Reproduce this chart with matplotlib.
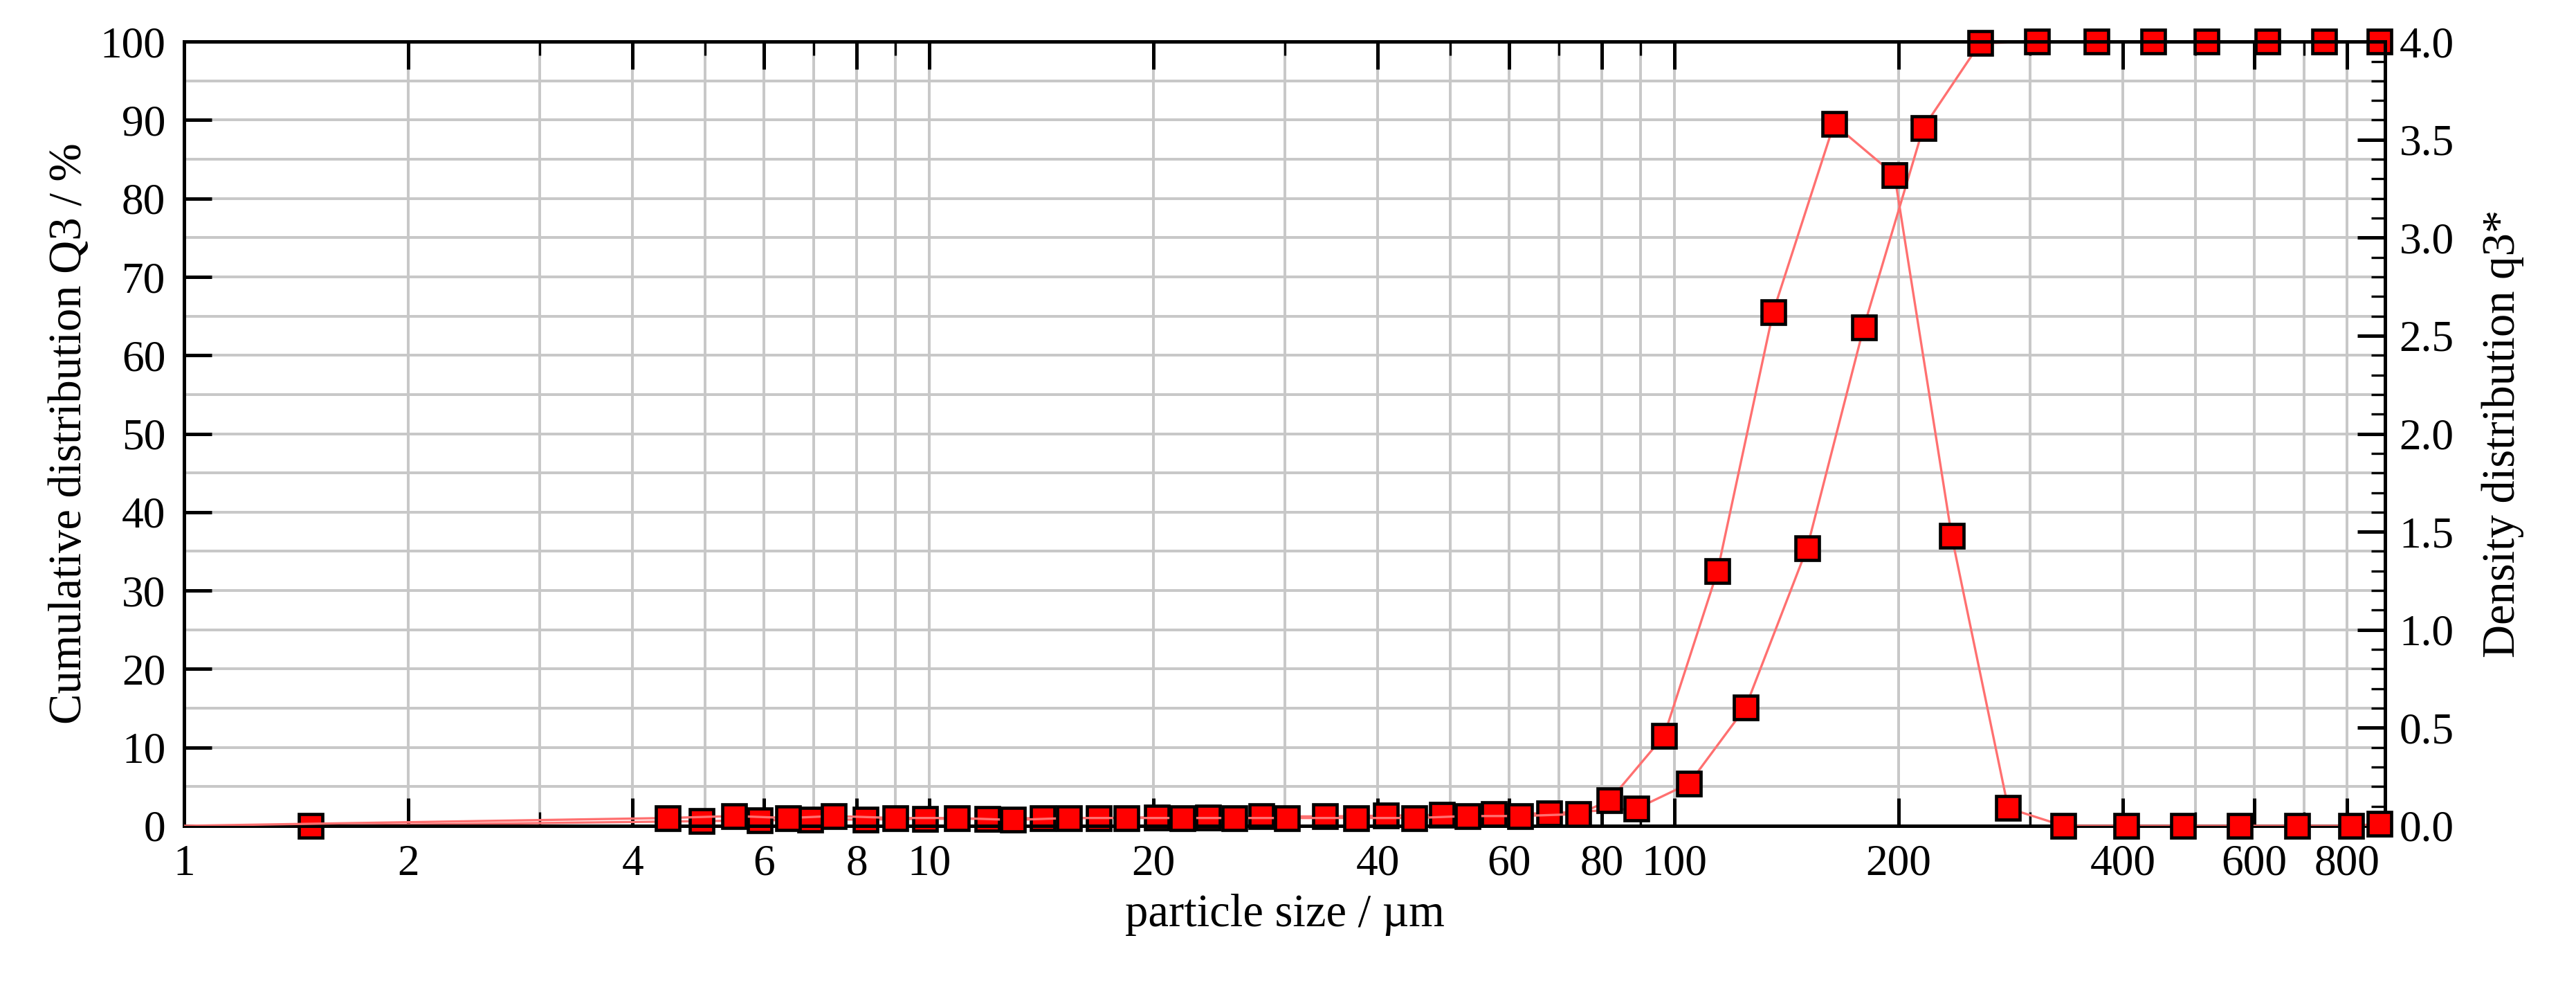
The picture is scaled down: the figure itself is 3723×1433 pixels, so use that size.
import matplotlib

matplotlib.use("Agg")

import matplotlib.pyplot as plt
from matplotlib.ticker import FixedLocator, FormatStrFormatter, MultipleLocator, NullFormatter

# cumulative distribution Q3 (%)
cum_size = [1.48, 4.95, 5.93, 6.93, 8.22, 9.88, 11.96, 14.2, 16.9, 20.2, 23.7,
            27.9, 34.0, 41.0, 48.8, 57.3, 68.0, 89.0, 104.7, 124.6, 150.7,
            179.6, 215.8, 257.2, 306.9, 368.4, 439.5, 517.9, 624.6, 744.5, 883.0]
cum_q3 = [0.0, 0.6, 0.7, 0.8, 0.8, 0.9, 0.9, 1.0, 1.0, 1.1, 1.1,
          1.2, 1.2, 1.3, 1.4, 1.5, 1.6, 2.2, 5.4, 15.1, 35.4,
          63.6, 89.0, 99.8, 100.0, 100.0, 100.0, 100.0, 100.0, 100.0, 100.0]

# density distribution q3* (right axis units)
dens_size = [4.46, 5.47, 6.47, 7.45, 9.0, 10.9, 12.96, 15.4, 18.4, 21.9, 25.7,
             30.2, 37.4, 44.8, 52.8, 62.1, 74.4, 81.9, 96.9, 114.3, 135.7,
             163.8, 197.5, 235.6, 280.6, 332.9, 404.0, 482.0, 573.9, 685.2,
             810.0, 883.0]
dens_q3 = [0.04, 0.05, 0.04, 0.05, 0.04, 0.04, 0.03, 0.04, 0.04, 0.04, 0.04,
           0.04, 0.04, 0.04, 0.05, 0.05, 0.06, 0.13, 0.46, 1.30, 2.62,
           3.58, 3.32, 1.48, 0.09, 0.0, 0.0, 0.0, 0.0, 0.0, 0.0, 0.01]

x_ticks = [1, 2, 4, 6, 8, 10, 20, 40, 60, 80, 100, 200, 400, 600, 800]

plt.rcParams["font.family"] = ["Liberation Serif", "DejaVu Serif"]
plt.rcParams["font.size"] = 19

fig = plt.figure(figsize=(3723 / 240, 1433 / 240), dpi=240)
ax = fig.add_axes([0.0714, 0.1675, 0.8546, 0.7905])
ax2 = ax.twinx()

line_col = "#ff7070"
ax.plot([1] + cum_size, [0] + cum_q3, color=line_col, lw=1.0, zorder=3)
ax.plot(cum_size, cum_q3, ls="none", marker="s", ms=10, mfc="#ff0000",
        mec="black", mew=1.4, zorder=4, clip_on=False)
ax2.plot([1] + dens_size, [0] + dens_q3, color=line_col, lw=1.0, zorder=3)
ax2.plot(dens_size, dens_q3, ls="none", marker="s", ms=10, mfc="#ff0000",
         mec="black", mew=1.4, zorder=4, clip_on=False)

ax.set_xscale("log")
ax.set_xlim(1, 900)
ax.set_ylim(0, 100)
ax2.set_ylim(0, 4.0)

ax.xaxis.set_major_locator(FixedLocator(x_ticks))
ax.set_xticklabels([str(t) for t in x_ticks])
minor = [m * 10 ** e for e in range(0, 3) for m in range(1, 10)]
ax.xaxis.set_minor_locator(FixedLocator(minor))
ax.xaxis.set_minor_formatter(NullFormatter())
ax.yaxis.set_major_locator(MultipleLocator(10))
ax.yaxis.set_minor_locator(MultipleLocator(5))
ax2.yaxis.set_major_locator(MultipleLocator(0.5))
ax2.yaxis.set_minor_locator(MultipleLocator(0.1))
ax2.yaxis.set_major_formatter(FormatStrFormatter("%.1f"))

ax.grid(True, which="both", color="#c8c8c8", lw=1.2)
ax.set_axisbelow(True)

ax.tick_params(which="major", direction="in", length=12, width=1.5,
               top=True, right=False, pad=8)
ax.tick_params(which="minor", direction="in", length=0, top=False)
ax.tick_params(axis="x", which="minor", length=6, width=1.0, top=True)
ax2.tick_params(which="major", direction="in", length=12, width=1.5, pad=6)
ax2.tick_params(which="minor", direction="in", length=6, width=1.0)
for a in (ax, ax2):
    for s in a.spines.values():
        s.set_linewidth(1.5)

ax.set_xlabel("particle size / µm", fontsize=20)
ax.set_ylabel("Cumulative distribution Q3 / %", fontsize=20)
ax2.set_ylabel("Density distribution q3*", fontsize=20, labelpad=12)

fig.savefig("out.png", dpi=240)
